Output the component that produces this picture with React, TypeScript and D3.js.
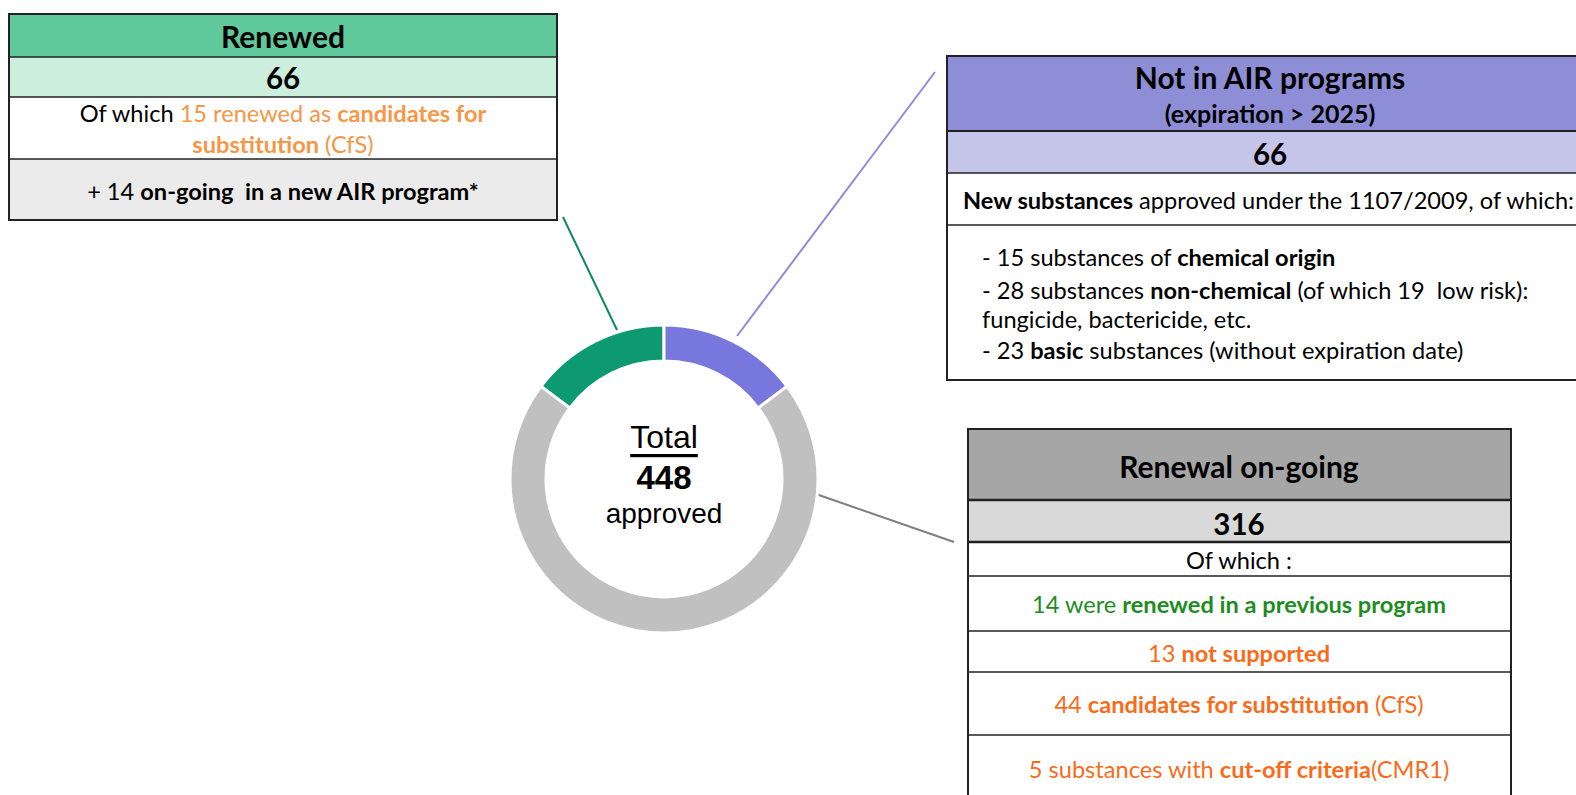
import React from 'react';
import * as d3 from 'd3';

// ring data
const SEGMENTS = ["Renewed", "Not in AIR programs", "Renewal on-going"];
const COUNTS = [66, 66, 316];
const TOTAL = 448;
const RING_COLORS = ["#0E9A70", "#7877DD", "#C0C0C0"];
const LEADER_COLORS = ["#0B8A64", "#8C8CDC", "#7F7F7F"];

const ORANGE_LIGHT = "#F79646";
const ORANGE = "#FA6B19";
const GREEN = "#1E8C1E";

// text runs: [text, bold, colour]
type Run = [string, boolean?, string?];

const RENEWED_NOTE_1: Run[] = [["Of which "], ["15 renewed as ", false, ORANGE_LIGHT], ["candidates for", true, ORANGE_LIGHT]];
const RENEWED_NOTE_2: Run[] = [["substitution", true, ORANGE_LIGHT], [" (CfS)", false, ORANGE_LIGHT]];
const RENEWED_EXTRA: Run[] = [["+ 14 "], ["on-going  in a new AIR program*", true]];

const NOT_AIR_INTRO: Run[] = [["New substances", true], [" approved under the 1107/2009, of which:"]];
const NOT_AIR_LIST: Run[][] = [
    [["- 15 substances of "], ["chemical origin", true]],
    [["- 28 substances "], ["non-chemical", true], [" (of which 19  low risk):"]],
    [["fungicide, bactericide, etc."]],
    [["- 23 "], ["basic", true], [" substances (without expiration date)"]],
];

const ONGOING_ROWS: Run[][] = [
    [["Of which :"]],
    [["14 were ", false, GREEN], ["renewed in a previous program", true, GREEN]],
    [["13 ", false, ORANGE], ["not supported", true, ORANGE]],
    [["44 ", false, ORANGE], ["candidates for substitution", true, ORANGE], [" (CfS)", false, ORANGE]],
    [["5 substances with ", false, ORANGE], ["cut-off criteria", true, ORANGE], ["(CMR1)", false, ORANGE]],
];

const FONT = "Lato, 'Open Sans', sans-serif";
const BODY = 23.6;
const HEAD = 30;
const NUM = 29.5;

function Rich({ runs, x, y, size, anchor = "middle" }: { runs: Run[], x: number, y: number, size: number, anchor?: string }) {
    return (
        <text x={x} y={y} fontSize={size} fontFamily={FONT} textAnchor={anchor} dominantBaseline="central" style={{ whiteSpace: "pre" }}>
            {runs.map((r, i) => (
                <tspan key={i} fontWeight={r[1] ? 700 : 400} fill={r[2] || "#000"}>{r[0]}</tspan>
            ))}
        </text>
    );
}

function Rows({ x0, x1, ys, fills, thick }: { x0: number, x1: number, ys: number[], fills: string[], thick: number[] }) {
    return (
        <g>
            {fills.map((f, i) => (
                <rect key={"r" + i} x={x0} y={ys[i]} width={x1 - x0} height={ys[i + 1] - ys[i]} fill={f} />
            ))}
            {ys.slice(1, -1).map((y, i) => (
                <line key={"l" + i} x1={x0} x2={x1} y1={y} y2={y} stroke="#222" strokeWidth={thick[i] || 1.3} />
            ))}
            <rect x={x0} y={ys[0]} width={x1 - x0} height={ys[ys.length - 1] - ys[0]} fill="none" stroke="#222" strokeWidth={2} />
        </g>
    );
}

export default function App() {
    const cx = 664, cy = 479;
    const pie = d3.pie<number>().sort(null)
        .startAngle(-2 * Math.PI * COUNTS[0] / TOTAL)
        .endAngle(2 * Math.PI - 2 * Math.PI * COUNTS[0] / TOTAL);
    const arcs = pie(COUNTS);
    const arc = d3.arc<d3.PieArcDatum<number>>().innerRadius(118).outerRadius(154);

    const leaders = [
        [[563, 217], [617, 330]],
        [[935, 72], [737, 336]],
        [[813, 493], [954, 542]],
    ];

    return (
        <div style={{ position: "fixed", left: 0, top: 0 }}>
            <svg width={1576} height={795} style={{ display: "block", background: "#fff" }}>
                {/* leader lines */}
                {leaders.map((l, i) => (
                    <line key={i} x1={l[0][0]} y1={l[0][1]} x2={l[1][0]} y2={l[1][1]} stroke={LEADER_COLORS[i]} strokeWidth={2} />
                ))}

                {/* donut */}
                <g transform={`translate(${cx},${cy})`}>
                    {arcs.map((a, i) => (
                        <path key={SEGMENTS[i]} d={arc(a) || ""} fill={RING_COLORS[i]} stroke="#fff" strokeWidth={3} />
                    ))}
                    <text y={-42} textAnchor="middle" dominantBaseline="central" fontFamily="'Liberation Sans', Arial, sans-serif" fontSize={32} textDecoration="underline">Total</text>
                    <text y={-2} textAnchor="middle" dominantBaseline="central" fontFamily="'Liberation Sans', Arial, sans-serif" fontSize={33} fontWeight={700}>{TOTAL}</text>
                    <text y={34} textAnchor="middle" dominantBaseline="central" fontFamily="'Liberation Sans', Arial, sans-serif" fontSize={28}>approved</text>
                </g>

                {/* Renewed box */}
                <Rows x0={9} x1={557} ys={[14, 57, 97, 159, 220]} fills={["#5FC99B", "#CCEEDD", "#FFFFFF", "#EBEBEB"]} thick={[1.3, 1.3, 1.3]} />
                <Rich runs={[[SEGMENTS[0], true]]} x={283} y={36} size={HEAD} />
                <Rich runs={[[String(COUNTS[0]), true]]} x={283} y={77} size={NUM} />
                <Rich runs={RENEWED_NOTE_1} x={283} y={113} size={BODY} />
                <Rich runs={RENEWED_NOTE_2} x={283} y={144} size={BODY} />
                <Rich runs={RENEWED_EXTRA} x={283} y={191} size={BODY} />

                {/* Not in AIR box */}
                <Rows x0={947} x1={1600} ys={[56, 131, 173, 225, 380]} fills={["#8E8ED6", "#C5C5EA", "#FFFFFF", "#FFFFFF"]} thick={[1.8, 1.3, 1.3]} />
                <Rich runs={[[SEGMENTS[1], true]]} x={1270} y={77} size={HEAD} />
                <Rich runs={[["(expiration > 2025)", true]]} x={1270} y={113} size={25} />
                <Rich runs={[[String(COUNTS[1]), true]]} x={1270} y={153} size={NUM} />
                <Rich runs={NOT_AIR_INTRO} x={963} y={200} size={BODY} anchor="start" />
                {NOT_AIR_LIST.map((runs, i) => (
                    <Rich key={i} runs={runs} x={982} y={[257, 290, 319, 350][i]} size={BODY} anchor="start" />
                ))}

                {/* Renewal on-going box */}
                <Rows x0={968} x1={1511} ys={[429, 500, 542, 576, 631, 672, 735, 800]} fills={["#A6A6A6", "#D9D9D9", "#FFFFFF", "#FFFFFF", "#FFFFFF", "#FFFFFF", "#FFFFFF"]} thick={[2.5, 2.5, 1.3, 1.3, 1.3, 1.3]} />
                <Rich runs={[[SEGMENTS[2], true]]} x={1239} y={466} size={HEAD} />
                <Rich runs={[[String(COUNTS[2]), true]]} x={1239} y={523} size={NUM} />
                {ONGOING_ROWS.map((runs, i) => (
                    <Rich key={i} runs={runs} x={1239} y={[560, 604, 653, 704, 769][i]} size={BODY} />
                ))}
            </svg>
        </div>
    );
}
